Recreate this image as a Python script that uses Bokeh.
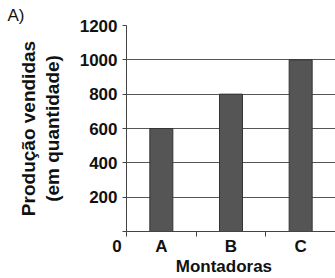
from bokeh.plotting import figure
from bokeh.models import FixedTicker, Range1d, Title
from bokeh.embed import file_html
from bokeh.resources import INLINE

categories = ["A", "B", "C"]
values = [600, 800, 1000]
y_ticks = [0, 200, 400, 600, 800, 1000, 1200]
y_title_lines = ["Produção vendidas", "(em quantidade)"]
x_title = "Montadoras"
origin_label = "0"
panel_label = "A)"

FONT = "Liberation Sans"
NB = "\u00a0"
xs = [i + 0.5 for i in range(len(categories))]

p = figure(width=335, height=278, output_backend="svg", toolbar_location=None,
           x_range=Range1d(0, len(categories)), y_range=Range1d(0, 1200),
           min_border_left=126, min_border_right=0, min_border_top=25, min_border_bottom=43)
p.outline_line_color = None
p.background_fill_color = "white"
p.border_fill_color = "white"

p.vbar(x=xs, top=values, width=0.33, fill_color="#555555", line_color="#333333", line_width=1)

# y axis
ya = p.yaxis[0]
ya.ticker = FixedTicker(ticks=y_ticks)
ya.major_label_overrides = {0: ""}
ya.major_tick_out = 4
ya.major_tick_in = 0
ya.minor_tick_line_color = None
ya.axis_line_color = "#444444"
ya.major_tick_line_color = "#444444"
ya.major_label_standoff = 5
ya.major_label_text_font = FONT
ya.major_label_text_font_style = "bold"
ya.major_label_text_font_size = "17px"
ya.major_label_text_color = "#111111"
ya.axis_label = y_title_lines[1]
ya.axis_label_standoff = 14
ya.axis_label_text_font = FONT
ya.axis_label_text_font_style = "bold"
ya.axis_label_text_font_size = "19px"
ya.axis_label_text_color = "#111111"

# x axis
xa = p.xaxis[0]
xa.ticker = FixedTicker(ticks=[0] + xs, minor_ticks=list(range(len(categories) + 1)))
labels = {x: c for x, c in zip(xs, categories)}
labels[0] = origin_label + NB * 4
xa.major_label_overrides = labels
xa.major_tick_line_color = None
xa.major_tick_out = 0
xa.major_tick_in = 0
xa.minor_tick_out = 5
xa.minor_tick_in = 0
xa.minor_tick_line_color = "#444444"
xa.axis_line_color = "#444444"
xa.major_label_standoff = 0
xa.major_label_text_font = FONT
xa.major_label_text_font_style = "bold"
xa.major_label_text_font_size = "17px"
xa.major_label_text_color = "#111111"
xa.axis_label = x_title + NB * 3
xa.axis_label_standoff = -2
xa.axis_label_text_font = FONT
xa.axis_label_text_font_style = "bold"
xa.axis_label_text_font_size = "17px"
xa.axis_label_text_color = "#111111"

p.xgrid.grid_line_color = None
p.ygrid.grid_line_color = "#555555"
p.ygrid.grid_line_width = 1
p.ygrid.ticker = FixedTicker(ticks=y_ticks[1:])

# outer line of y title
p.add_layout(Title(text=y_title_lines[0], align="center", standoff=0, text_font=FONT,
                   text_font_style="bold", text_font_size="19px", text_color="#111111"), "left")

# panel label
p.add_layout(Title(text=panel_label, align="left", offset=-119, standoff=0,
                   vertical_align="middle", text_font=FONT,
                   text_font_style="normal", text_font_size="17px", text_color="#111111"), "above")

open("out.html", "w").write(file_html(p, INLINE))
